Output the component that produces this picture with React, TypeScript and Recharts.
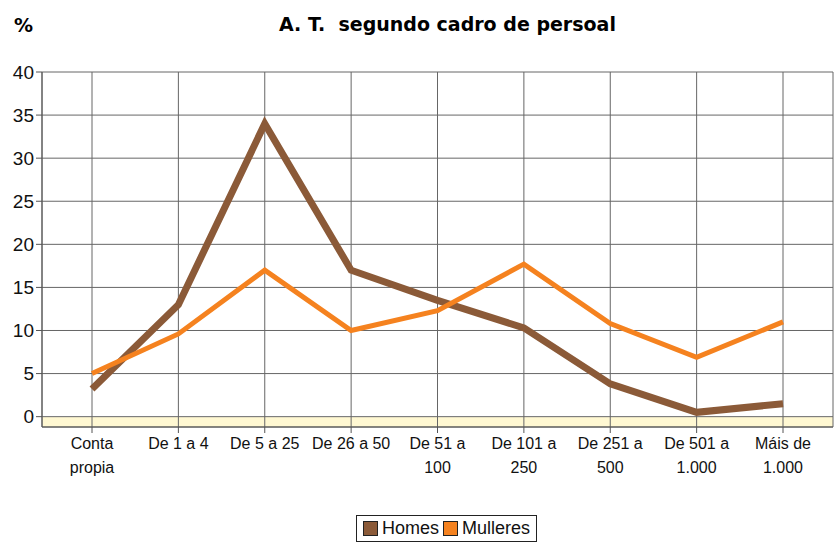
import {
	CartesianGrid,
	Legend,
	Line,
	LineChart,
	XAxis,
	YAxis,
} from 'recharts'

const categories = [
	'Conta propia',
	'De 1 a 4',
	'De 5 a 25',
	'De 26 a 50',
	'De 51 a 100',
	'De 101 a 250',
	'De 251 a 500',
	'De 501 a 1.000',
	'Máis de 1.000',
]
const tickLines = [
	['Conta', 'propia'],
	['De 1 a 4'],
	['De 5 a 25'],
	['De 26 a 50'],
	['De 51 a', '100'],
	['De 101 a', '250'],
	['De 251 a', '500'],
	['De 501 a', '1.000'],
	['Máis de', '1.000'],
]
const homes = [3.2, 13, 34, 17, 13.5, 10.3, 3.8, 0.5, 1.5]
const mulleres = [5, 9.6, 17, 10, 12.3, 17.7, 10.8, 6.9, 11]
const yTicks = [0, 5, 10, 15, 20, 25, 30, 35, 40]

const data = categories.map((c, i) => ({
	cat: c,
	Homes: homes[i],
	Mulleres: mulleres[i],
}))

const font = '"Liberation Sans", Arial, sans-serif'
// stripes go top to bottom; only the one under the 0 line gets the floor colour
const stripeFill = [...yTicks].reverse().map((t) => (t === 0 ? '#FFF8D2' : 'none'))

const CatTick = ({ x, y, payload }: any) => {
	const lines = tickLines[payload.index] ?? [payload.value]
	return (
		<text x={x} y={y + 14} textAnchor='middle' fill='#111' fontSize={16} fontFamily={font}>
			{lines.map((l, i) => (
				<tspan key={i} x={x} dy={i === 0 ? 0 : 24}>
					{l}
				</tspan>
			))}
		</text>
	)
}

const LegendBox = () => (
	<div style={{ display: 'flex', justifyContent: 'center', paddingLeft: 60 }}>
		<div
			style={{
				display: 'inline-flex',
				alignItems: 'center',
				border: '1px solid #222',
				padding: '2px 6px',
				fontFamily: font,
				fontSize: 18,
				color: '#111',
				background: '#fff',
			}}
		>
			<span style={{ width: 13, height: 13, background: '#8B5A38', border: '1px solid #222', marginRight: 4 }} />
			<span style={{ marginRight: 4 }}>Homes</span>
			<span style={{ width: 13, height: 13, background: '#F5821F', border: '1px solid #222', marginRight: 4 }} />
			<span>Mulleres</span>
		</div>
	</div>
)

export default function App() {
	return (
		<div style={{ position: 'absolute', left: 0, top: 0, width: 835, height: 542, background: '#fff' }}>
			<div
				style={{
					position: 'absolute',
					left: 14,
					top: 14,
					fontFamily: '"DejaVu Sans", Verdana, sans-serif',
					fontWeight: 'bold',
					fontSize: 19,
				}}
			>
				%
			</div>
			<div
				style={{
					position: 'absolute',
					left: 0,
					width: 835,
					paddingLeft: 60,
					boxSizing: 'border-box',
					top: 13,
					textAlign: 'center',
					fontFamily: '"DejaVu Sans", Verdana, sans-serif',
					fontWeight: 'bold',
					fontSize: 19,
					whiteSpace: 'pre',
				}}
			>
				{'A. T.  segundo cadro de persoal'}
			</div>
			<LineChart
				width={835}
				height={542}
				data={data}
				margin={{ top: 72, right: 2, bottom: 0, left: 0 }}
			>
				<CartesianGrid stroke='#666' strokeWidth={1} horizontalFill={stripeFill} />
				<XAxis
					dataKey='cat'
					interval={0}
					padding={{ left: 50, right: 50 }}
					tick={<CatTick />}
					tickLine={{ stroke: '#555' }}
					axisLine={{ stroke: '#555' }}
					height={88}
				/>
				<YAxis
					domain={[-1.2, 40]}
					ticks={yTicks}
					interval={0}
					tick={{ fontSize: 19, fill: '#111', fontFamily: font }}
					tickLine={{ stroke: '#555' }}
					axisLine={{ stroke: '#555' }}
					width={42}
				/>
				<Legend verticalAlign='bottom' align='center' content={<LegendBox />} wrapperStyle={{ bottom: 0 }} />
				<Line
					type='linear'
					dataKey='Homes'
					stroke='#8B5A38'
					strokeWidth={7}
					dot={false}
					isAnimationActive={false}
				/>
				<Line
					type='linear'
					dataKey='Mulleres'
					stroke='#F5821F'
					strokeWidth={5}
					dot={false}
					isAnimationActive={false}
				/>
			</LineChart>
		</div>
	)
}
